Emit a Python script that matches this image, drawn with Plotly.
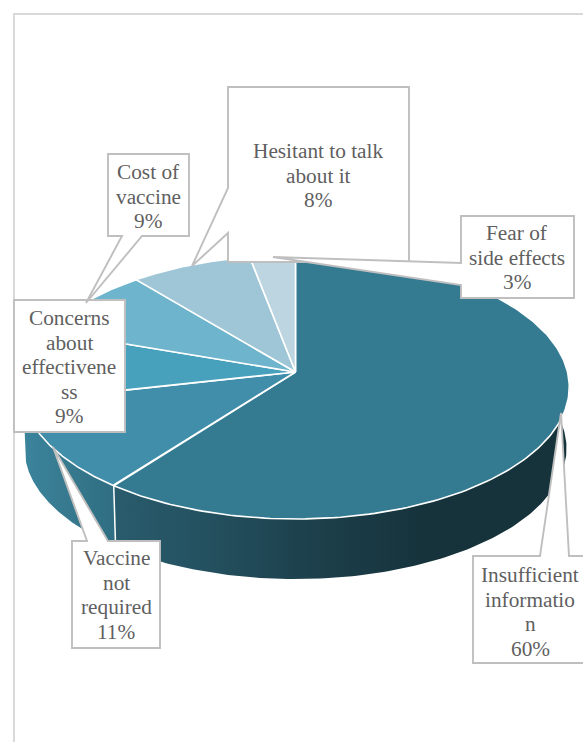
import numpy as np
import plotly.graph_objects as go

categories = ["Insufficient information", "Vaccine not required", "Concerns about effectiveness",
              "Cost of vaccine", "Hesitant to talk about it", "Fear of side effects"]
values = [60.4, 11.1, 8.8, 8.7, 8.0, 3.0]
slice_colors = ["#347B92", "#408EAA", "#47A1BD", "#6EB4CC", "#9EC6D7", "#BDD5E0"]
# category labels as they wrap in the chart (last line, the percentage, comes from values)
wrapped = [["Insufficient", "informatio", "n"], ["Vaccine", "not", "required"],
           ["Concerns", "about", "effectivene", "ss"], ["Cost of", "vaccine"],
           ["Hesitant to talk", "about it"], ["Fear of", "side effects"]]

# projection of the pie disc onto the page
CX, CY, RX, RY, K = 295.5, 372, 272, 130.3, 0.1136
DEPTH, BOTTOM_SCALE = 61.5, 0.99


def rim(t, dy=0.0, s=1.0):
    d = 1 + K * np.sin(t)
    return CX + s * RX * np.cos(t) / d, CY + dy + s * RY * (-np.sin(t)) / d


fracs = np.cumsum([0] + values) / sum(values)
angles = np.pi / 2 - 2 * np.pi * fracs   # clockwise from 12 o'clock

fig = go.Figure()


def wall(a, b, stops, x0, x1):
    t = np.linspace(a, b, 160)
    xt, yt = rim(t)
    xb, yb = rim(t[::-1], DEPTH, BOTTOM_SCALE)
    fig.add_trace(go.Scatter(
        x=np.r_[xt, xb, xt[0]], y=np.r_[yt, yb, yt[0]], mode="lines", line=dict(width=0),
        fill="toself", hoverinfo="skip",
        fillgradient=dict(type="horizontal", colorscale=stops, start=x0, stop=x1)))


# side walls: the first slice and the second slice are the ones facing the viewer
wall(np.radians(12), angles[1],
     [[0, "#295C6D"], [0.2, "#245160"], [0.42, "#1D414D"], [0.68, "#16333C"], [1, "#16333C"]], 112, 569)
wall(angles[1], angles[2], [[0, "#3A849C"], [0.5, "#37798E"], [1, "#2F6E83"]], 25, 113)

# white seam on the wall between the two slices
sx, sy = rim(np.array([angles[1]]))
bx, by = rim(np.array([angles[1]]), DEPTH, BOTTOM_SCALE)
fig.add_trace(go.Scatter(x=[sx[0], bx[0]], y=[sy[0], by[0]], mode="lines",
                         line=dict(color="white", width=1.5), hoverinfo="skip"))

# top faces
for i, name in enumerate(categories):
    t = np.linspace(angles[i], angles[i + 1], 200)
    xs, ys = rim(t)
    fig.add_trace(go.Scatter(
        x=np.r_[CX, xs, CX], y=np.r_[CY, ys, CY], mode="lines", name=name,
        line=dict(color="white", width=1.6), fill="toself", fillcolor=slice_colors[i],
        hovertemplate=f"{name}: {round(values[i])}%<extra></extra>"))

GRAY = "#BFBFBF"
shapes = [dict(type="rect", x0=14, y0=14, x1=640, y1=800, line=dict(color="#D9D9D9", width=2), layer="below")]


def callout(points):
    path = "M" + " L".join(f"{x},{y}" for x, y in points) + " Z"
    shapes.append(dict(type="path", path=path, fillcolor="white", line=dict(color=GRAY, width=1.9), layer="above"))


callout([(473, 556), (540, 556), (561, 413), (569, 556), (620, 556), (620, 663), (473, 663)])
callout([(72, 541), (87, 541), (53, 447), (108, 541), (160, 541), (160, 648), (72, 648)])
callout([(14, 300), (125, 300), (125, 432), (14, 432)])
callout([(108, 154), (189, 154), (189, 236), (142, 236), (86, 303), (122, 236), (108, 236)])
callout([(228, 87), (409, 87), (409, 262), (228, 262), (228, 233), (192, 266), (228, 188)])
callout([(461, 216), (574, 216), (574, 298), (461, 298), (461, 285), (273, 257), (461, 263)])

text_centers = [530, 116, 69, 148, 318, 517]
text_tops = [575, 558, 318, 172, 151, 233]
LINE_STEP = 24.6

annotations = []
for lines, v, cx, top in zip(wrapped, values, text_centers, text_tops):
    for j, line in enumerate(lines + [f"{round(v)}%"]):
        annotations.append(dict(x=cx, y=top + j * LINE_STEP, text=line, showarrow=False,
                                xref="x", yref="y", xanchor="center", yanchor="middle",
                                font=dict(family="Liberation Serif", size=21.3, color="#5F5F5F")))

fig.update_layout(
    width=583, height=742, margin=dict(l=0, r=0, t=0, b=0), showlegend=False,
    paper_bgcolor="white", plot_bgcolor="white",
    xaxis=dict(range=[0, 583], visible=False, fixedrange=True),
    yaxis=dict(range=[742, 0], visible=False, fixedrange=True),
    shapes=shapes, annotations=annotations)

fig.write_html("out.html", config=dict(displayModeBar=False),
               post_script="document.body.style.margin='0';document.body.style.overflow='hidden';")
